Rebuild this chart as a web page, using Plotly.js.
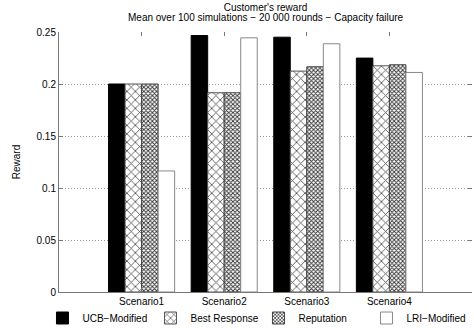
<!DOCTYPE html>
<html><head><meta charset="utf-8">
<script src="https://cdn.plot.ly/plotly-3.0.1.min.js"></script>
<style>html,body{margin:0;padding:0;background:#fff}#c{width:474px;height:328px}</style>
</head><body><div id="c"></div>
<script>
const categories = ["Scenario1", "Scenario2", "Scenario3", "Scenario4"];
const ucbModified = [0.200, 0.2466, 0.2450, 0.2249];
const bestResponse = [0.200, 0.1916, 0.2124, 0.2175];
const reputation = [0.200, 0.1916, 0.2166, 0.2185];
const lriModified = [0.1164, 0.2444, 0.2387, 0.2111];
const yTicks = [0, 0.05, 0.1, 0.15, 0.2, 0.25];
const yTickText = ["0", "0.05", "0.1", "0.15", "0.2", "0.25"];

const font = {family: "Liberation Sans, Arial, sans-serif", size: 10, color: "#000"};
const traces = [
  {type: "bar", name: "UCB\u2212Modified", x: categories, y: ucbModified,
   marker: {color: "#000", line: {color: "#000", width: 1}}},
  {type: "bar", name: "Best Response", x: categories, y: bestResponse,
   marker: {color: "#fff", line: {color: "#555", width: 1},
            pattern: {shape: "x", fgcolor: "#444", bgcolor: "#fff", size: 6, solidity: 0.25}}},
  {type: "bar", name: "Reputation", x: categories, y: reputation,
   marker: {color: "#fff", line: {color: "#444", width: 1},
            pattern: {shape: "x", fgcolor: "#333", bgcolor: "#fff", size: 3, solidity: 0.5}}},
  {type: "bar", name: "LRI\u2212Modified", x: categories, y: lriModified,
   marker: {color: "#fff", line: {color: "#888", width: 1}}},
  // invisible helper trace so the mirrored tick axes are drawn
  {type: "bar", x: categories, y: ucbModified, xaxis: "x2", yaxis: "y2",
   showlegend: false, hoverinfo: "skip", opacity: 0}
];

const layout = {
  width: 474, height: 328,
  margin: {l: 59, r: 2, t: 32, b: 36, autoexpand: false},
  paper_bgcolor: "#fff", plot_bgcolor: "#fff",
  font: font,
  barmode: "group", bargap: 0.2, bargroupgap: 0,
  title: {text: "Customer's reward",
          font: {family: font.family, size: 10, color: "#000"},
          x: 0.5, xref: "paper", xanchor: "center",
          yref: "container", y: 0.977, yanchor: "middle"},
  annotations: [{text: "Mean over 100 simulations \u2212 20 000 rounds \u2212 Capacity failure",
                 xref: "paper", yref: "paper", x: 0.5, y: 1.0558, xanchor: "center", yanchor: "middle",
                 showarrow: false, font: {family: font.family, size: 10, color: "#000"}}],
  xaxis: {type: "category", categoryarray: categories, range: [-1, 4],
          showline: true, linecolor: "#777", linewidth: 1,
          ticks: "inside", ticklen: 4, tickcolor: "#777",
          showgrid: false, zeroline: false, tickfont: font, fixedrange: true},
  yaxis: {range: [0, 0.25], tickvals: yTicks, ticktext: yTickText,
          showline: true, linecolor: "#777", linewidth: 1,
          ticks: "inside", ticklen: 4, tickcolor: "#777",
          showgrid: true, gridcolor: "#999", griddash: "1px,2px", gridwidth: 1,
          zeroline: false, tickfont: font,
          title: {text: "Reward", font: font, standoff: 14}},
  xaxis2: {type: "category", categoryarray: categories, range: [-1, 4], overlaying: "x", side: "top",
           showline: false, ticks: "inside", ticklen: 4, tickcolor: "#777",
           showticklabels: false, showgrid: false, zeroline: false},
  yaxis2: {range: [0, 0.25], tickvals: yTicks, overlaying: "y", side: "right",
           showline: false, ticks: "inside", ticklen: 4, tickcolor: "#777",
           showticklabels: false, showgrid: false, zeroline: false},
  showlegend: true,
  legend: {orientation: "h", x: -0.04, xanchor: "left", y: -0.1, yanchor: "middle",
           entrywidth: 63, entrywidthmode: "pixels", font: font,
           bgcolor: "rgba(0,0,0,0)", itemclick: false}
};
Plotly.newPlot("c", traces, layout, {displayModeBar: false, staticPlot: true});
</script></body></html>
